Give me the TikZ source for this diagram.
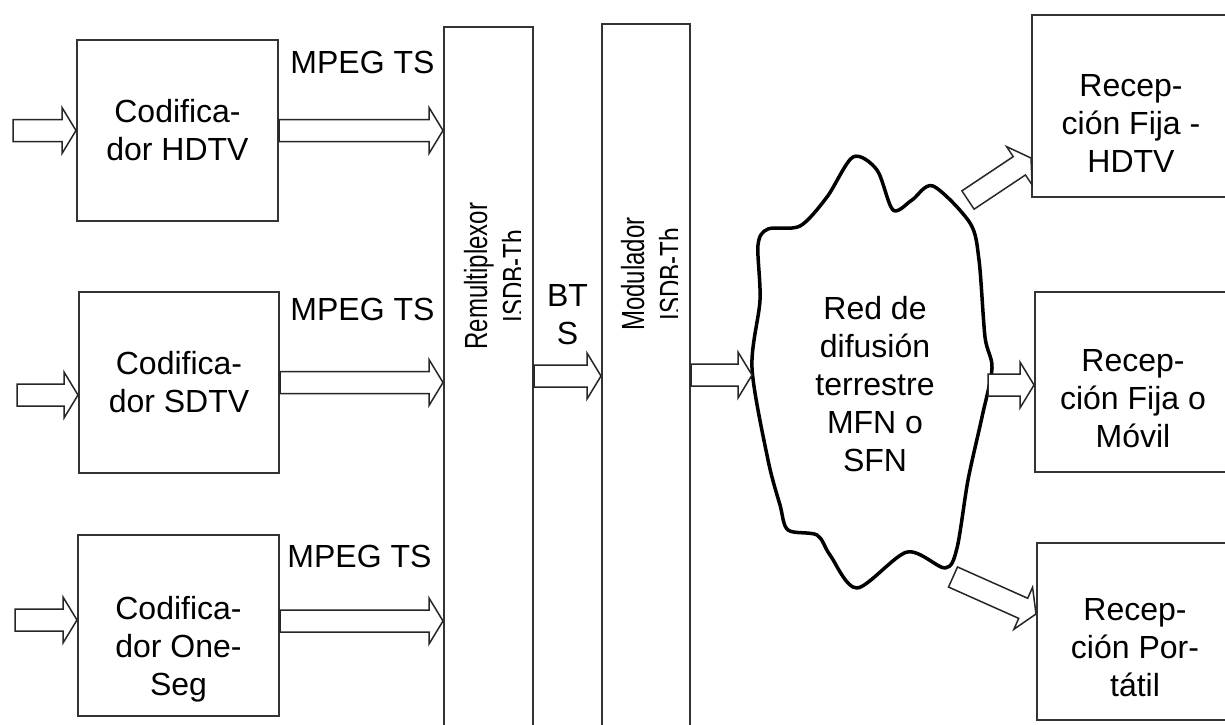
\documentclass[tikz,border=0pt]{standalone}
\usepackage{fontspec}
\setmainfont{Liberation Sans}
\usepackage{graphicx}
\usetikzlibrary{calc}

\newcommand{\labelfont}{\fontsize{32}{38}\selectfont}
\newcommand{\narrow}[1]{\scalebox{0.75}[1]{#1}}

\begin{document}
\begin{tikzpicture}[x=1pt,y=-1pt]
\tikzset{
  block/.style={draw=black!80, line width=2pt, rectangle, inner sep=0pt, fill=white},
  txt/.style={align=center, inner sep=0pt, font=\labelfont},
  vtxt/.style={inner sep=0pt, font=\labelfont, rotate=90, anchor=base},
  cloudline/.style={draw=black, line width=3.5pt, line join=round},
  fat/.style={draw=black!85, fill=white, line width=1.5pt, line join=miter,
    to path={let \p1=(\tikztostart), \p2=(\tikztotarget),
        \n1={atan2(\y2-\y1,\x2-\x1)}, \n2={veclen(\x2-\x1,\y2-\y1)} in
      [shift={(\p1)}, rotate=\n1]
      (0pt,-11pt) -- ({\n2-14pt},-11pt) -- ({\n2-14pt},-23pt) -- (\n2,0pt)
      -- ({\n2-14pt},23pt) -- ({\n2-14pt},11pt) -- (0pt,11pt) -- cycle}}
}
\path[fill=white, use as bounding box] (0,0) rectangle (1225,724);

% coders
\node[block, txt, minimum width=201pt, minimum height=181pt] (hdtv) at (177.5,130.5) {Codifica-\\dor HDTV};
\node[block, txt, minimum width=200pt, minimum height=181pt] (sdtv) at (179,382.5) {Codifica-\\dor SDTV};
\node[block, minimum width=201pt, minimum height=181pt] (oneseg) at (178.5,625.5) {};
\node[txt] (onesegtxt) at (178.5,649) {Codifica-\\dor One-\\Seg};

\node[txt, anchor=base] (mpeg1) at (362.5,73) {MPEG TS};
\node[txt, anchor=base] (mpeg2) at (362.5,320) {MPEG TS};
\node[txt, anchor=base] (mpeg3) at (359.5,567) {MPEG TS};

% remultiplexor and modulator
\node[block, minimum width=89pt, minimum height=740pt] (remux) at (488.5,397) {};
\node[block, minimum width=88pt, minimum height=740pt] (mod) at (646,394) {};
\begin{scope}
  \clip (444,0) rectangle (520.5,724);
  \node[vtxt] (remuxa) at (487,276) {\narrow{Remultiplexor}};
  \node[vtxt] (remuxb) at (525,276) {\narrow{ISDB-Tb}};
\end{scope}
\begin{scope}
  \clip (602,0) rectangle (677.5,724);
  \node[vtxt] (moda) at (644,274) {\narrow{Modulador}};
  \node[vtxt] (modb) at (682,274) {\narrow{ISDB-Tb}};
\end{scope}
\node[txt] (bts) at (567.5,314.5) {BT\\S};

% network cloud
\draw[cloudline] plot[smooth cycle, tension=0.5] coordinates {
  (758,245) (768,229) (800,226) (827,197) (853,157) (877,170) (893,210)
  (912,200) (933,186) (970,223) (979,260) (985,337) (992,368) (982,417)
  (968,480) (957,548) (945,568) (907,552) (857,588) (830,555) (817,535)
  (788,530) (780,505) (768,460) (752,368) (760,300)};
\node[txt] (red) at (875,384) {Red de\\difusión\\terrestre\\MFN o\\SFN};

% receivers
\node[block, minimum width=198pt, minimum height=182pt] (rx1) at (1131,106) {};
\node[txt] (rx1txt) at (1131,123.5) {Recep-\\ción Fija -\\HDTV};
\node[block, minimum width=195pt, minimum height=180pt] (rx2) at (1132.5,382) {};
\node[txt] (rx2txt) at (1133,398.5) {Recep-\\ción Fija o\\Móvil};
\node[block, minimum width=193pt, minimum height=177pt] (rx3) at (1133.5,631.5) {};
\node[txt] (rx3txt) at (1135,647.5) {Recep-\\ción Por-\\tátil};

% free ends
\coordinate (in1) at (13,130.5);
\coordinate (in2) at (17,395);
\coordinate (in3) at (15,620);
\coordinate (o3) at ([yshift=4.5pt]oneseg.east);
\coordinate (cw) at (752,375);
\coordinate (cne) at (968,200);
\coordinate (ce) at (988,385);
\coordinate (cse) at (953,577);

% block arrows
\draw[fat] (in1) to (hdtv.west);
\draw[fat] (in2) to ([yshift=-12.5pt]sdtv.west);
\draw[fat] (in3) to ([yshift=5.5pt]oneseg.west);
\draw[fat] (hdtv.east) to (remux.west |- hdtv.east);
\draw[fat] (sdtv.east) to (remux.west |- sdtv.east);
\draw[fat] (o3) to (remux.west |- o3);
\draw[fat] ([yshift=21pt]remux.east) to ([yshift=18pt]mod.west);
\draw[fat] ([yshift=19pt]mod.east) to (cw);
\draw[fat] (cne) to ([yshift=-52pt]rx1.west);
\draw[fat] (ce) to ([yshift=-3pt]rx2.west);
\draw[fat] (cse) to ([yshift=17.5pt]rx3.west);
\end{tikzpicture}
\end{document}
